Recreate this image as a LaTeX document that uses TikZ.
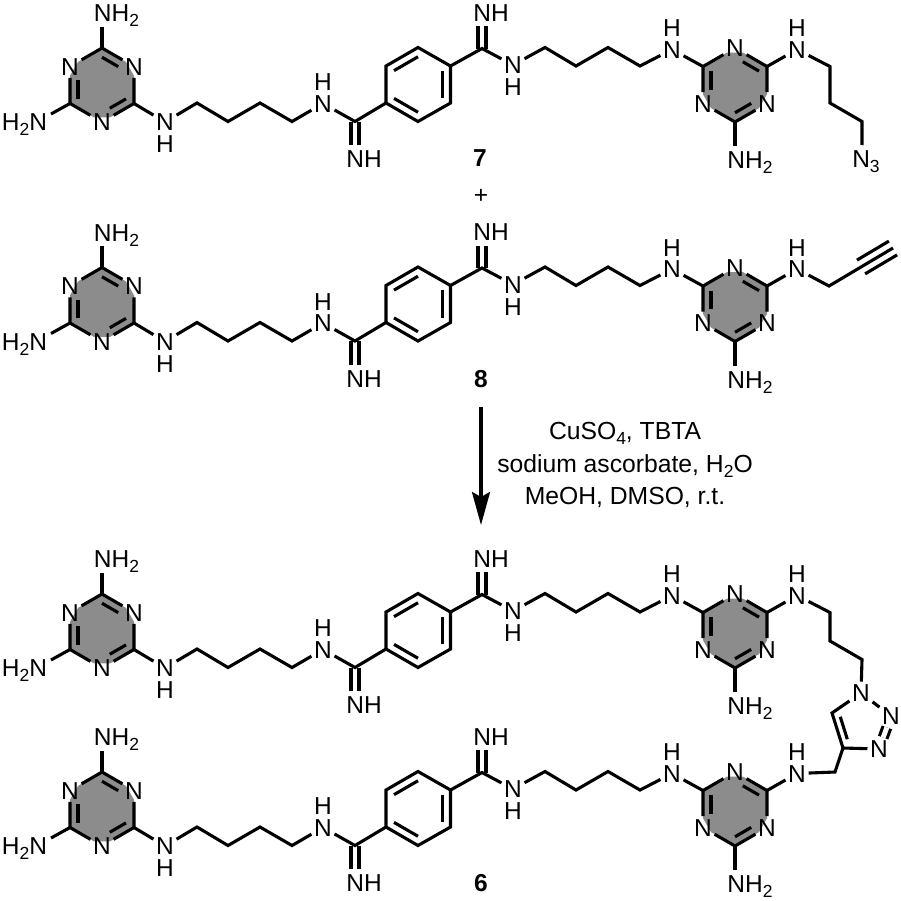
\documentclass[tikz,border=0pt]{standalone}
\usepackage{fontspec}
\setmainfont{Liberation Sans}
\usetikzlibrary{calc}
\usetikzlibrary{arrows.meta}
\definecolor{tri-grey}{RGB}{140, 140, 140}
\newcommand{\low}[1]{\raisebox{-5pt}{\fontsize{17.5}{17.5}\selectfont #1}}
\tikzset{
	bond/.style={line width=3.1pt},
	dbond/.style={line width=3.1pt,double,double distance=4.9pt},
	atom/.style={font=\fontsize{24.5}{27}\selectfont,inner sep=2.5pt,text height=17.5pt,text depth=0pt},
	grp/.style={atom,inner sep=5pt},
	reagent/.style={font=\fontsize{24.7}{32.5}\selectfont,align=center}
}
\newcommand{\inbond}[4][]{
	\draw [bond,#1] ($(#2)!.25!(#4)$) -- ($(#3)!.25!(#4)$);
}
\newcommand{\triL}[3]{
	\begin{scope}[shift={(#2,#3)}]
		\fill [tri-grey] (0,-37)--(24,-23.1)--(32,-9.3)--(32,18.5)--(8,32.4)--(-8,32.4)--(-32,18.5)--(-32,-9.3)--(-24,-23.1)--cycle;
		\coordinate (#1m) at (0,0);
		\coordinate (#1t) at (0,-37);
		\coordinate (#1r) at (32,18.5);
		\coordinate (#1l) at (-32,18.5);
		\node [atom] (#1nl) at (-32,-18.5) {N};
		\node [atom] (#1nr) at (32,-18.5) {N};
		\node [atom] (#1nb) at (0,37) {N};
		\draw [bond] (#1nl)--(#1t)--(#1nr);
		\draw [bond] (#1nr)--(#1r)--(#1nb);
		\draw [bond] (#1nb)--(#1l)--(#1nl);
		\inbond[shorten >=9pt]{#1t}{#1nr}{#1m}
		\inbond[shorten >=9pt]{#1r}{#1nb}{#1m}
		\inbond[shorten >=9pt]{#1l}{#1nl}{#1m}
	\end{scope}
}
\newcommand{\triR}[3]{
	\begin{scope}[shift={(#2,#3)}]
		\fill [tri-grey] (8,-32.4)--(32,-18.5)--(32,9.3)--(24,23.1)--(0,37)--(-24,23.1)--(-32,9.3)--(-32,-18.5)--(-8,-32.4)--cycle;
		\coordinate (#1m) at (0,0);
		\coordinate (#1b) at (0,37);
		\coordinate (#1r) at (32,-18.5);
		\coordinate (#1l) at (-32,-18.5);
		\node [atom] (#1nt) at (0,-37) {N};
		\node [atom] (#1nr) at (32,18.5) {N};
		\node [atom] (#1nl) at (-32,18.5) {N};
		\draw [bond] (#1nl)--(#1l)--(#1nt);
		\draw [bond] (#1nt)--(#1r)--(#1nr);
		\draw [bond] (#1nr)--(#1b)--(#1nl);
		\inbond[shorten >=9pt]{#1r}{#1nt}{#1m}
		\inbond[shorten >=9pt]{#1b}{#1nr}{#1m}
		\inbond[shorten >=9pt]{#1l}{#1nl}{#1m}
	\end{scope}
}
\newcommand{\halfmol}[2]{
	\begin{scope}[shift={(0,#2)}]
		\triL{#1L}{102}{85}
		\triR{#1R}{735}{85}
		\foreach \n/\x/\y in {1/197/103,2/228/121.5,3/260/103,4/292/121.5,5/355/121.5,6/482/48.5,7/545/47.5,8/576/66,9/608/47.5,10/640/66}{
			\coordinate (#1c\n) at (\x,\y);
		}
		\foreach \n/\x/\y in {1/386/103,2/386/66,3/418/47.5,4/450.5/66,5/450.5/103,6/418/121.5}{
			\coordinate (#1b\n) at (\x,\y);
		}
		\coordinate (#1ring) at (418,84.5);
		\foreach \n/\x/\y/\hy in {A/165/122/144,B/323/103.5/82,C/513/65/87,D/672/49.5/28,E/797/49.5/28}{
			\node [atom] (#1n\n) at (\x,\y) {N};
			\node [atom] (#1h\n) at (\x,\hy) {H};
		}
		\node [grp] (#1amT) at (116.5,13) {NH\low{2}};
		\node [grp] (#1amL) at (24.5,122) {H\low{2}N};
		\node [grp] (#1amB) at (750,160) {NH\low{2}};
		\node [grp] (#1imB) at (364,159) {NH};
		\node [grp] (#1imT) at (491,12.5) {NH};
		\coordinate (#1amLend) at (51,114);
		\draw [dbond] (#1c5)--(#1c5 |- #1imB.north);
		\draw [dbond] (#1c6)--(#1c6 |- #1imT.south);
		\draw [bond] (#1Lt)--(#1Lt |- #1amT.south);
		\draw [bond] (#1Ll)--(#1amLend);
		\draw [bond] (#1Rb)--(#1Rb |- #1amB.north);
		\draw [bond] (#1Lr)--(#1nA);
		\draw [bond] (#1nA)--(#1c1)--(#1c2)--(#1c3)--(#1c4)--(#1nB);
		\draw [bond] (#1nB)--(#1c5)--(#1b1);
		\draw [bond] (#1b1)--(#1b2)--(#1b3)--(#1b4)--(#1b5)--(#1b6)--cycle;
		\inbond{#1b2}{#1b3}{#1ring}
		\inbond{#1b4}{#1b5}{#1ring}
		\inbond{#1b6}{#1b1}{#1ring}
		\draw [bond] (#1b4)--(#1c6)--(#1nC);
		\draw [bond] (#1nC)--(#1c7)--(#1c8)--(#1c9)--(#1c10)--(#1nD);
		\draw [bond] (#1nD)--(#1Rl);
		\draw [bond] (#1Rr)--(#1nE);
	\end{scope}
}
\begin{document}
\begin{tikzpicture}[x=1pt,y=-1pt]
\useasboundingbox (0,0) rectangle (901,900);

\foreach \r/\dy in {a/0,b/219.5,c/546,d/724}{
	\halfmol{\r}{\dy}
}

% azide tail
\coordinate (aq1) at (830,66.5);
\coordinate (aq2) at (830,103);
\coordinate (aq3) at (862,121.5);
\node [grp] (azide) at (866,159) {N\low{3}};
\draw [bond] (anE)--(aq1)--(aq2)--(aq3)--(aq3 |- azide.north);

% alkyne tail
\coordinate (bq1) at (829,286);
\coordinate (bq2) at (861,267);
\coordinate (bq3) at (893,248);
\draw [bond] (bnE)--(bq1)--(bq2)--(bq3);
\foreach \a/\b in {90/-90,-90/90}{
	\draw [bond] ($(bq2)!8pt!\a:(bq3)$)--($(bq3)!8pt!\b:(bq2)$);
}

% triazole link
\coordinate (cq1) at (830,612.5);
\coordinate (cq2) at (830,641);
\coordinate (cq3) at (862,659.5);
\node [atom] (ntA) at (861,693) {N};
\node [atom] (ntB) at (891,716) {N};
\node [atom] (ntC) at (879,749) {N};
\coordinate (chA) at (832,713);
\coordinate (cqB) at (843,748);
\coordinate (ctr) at (865,728);
\coordinate (dq1) at (835,772);
\draw [bond] (cnE)--(cq1)--(cq2)--(cq3)--(ntA);
\draw [bond] (ntA)--(chA)--(cqB)--(ntC);
\draw [bond] (ntA)--(ntB);
\draw [dbond] (ntB)--(ntC);
\inbond[shorten >=4pt]{chA}{cqB}{ctr}
\draw [bond] (cqB)--(dq1)--(dnE);

% labels
\node [atom] (num7) at (480,158) {\textbf{7}};
\node [atom] (plus) at (481,195) {+};
\node [atom] (num8) at (481,379) {\textbf{8}};
\node [atom] (num6) at (481,883) {\textbf{6}};

% reaction arrow
\coordinate (arrowtop) at (481,407);
\coordinate (arrowtip) at (481,525);
\draw [bond,-{Stealth[length=33pt,width=18pt,inset=5pt]}] (arrowtop)--(arrowtip);
\node [reagent] (cond) at (625,465) {CuSO\low{4}, TBTA\\sodium ascorbate, H\low{2}O\\MeOH, DMSO, r.t.};

\end{tikzpicture}
\end{document}
